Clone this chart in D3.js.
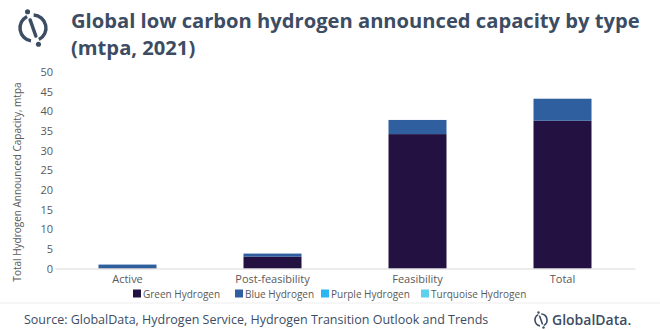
<!DOCTYPE html>
<html>
<head>
<meta charset="utf-8">
<script src="https://cdn.jsdelivr.net/npm/d3@7"></script>
<style>
  html, body { margin: 0; padding: 0; background: #fff; }
  svg { display: block; }
  text { font-family: "Open Sans", "Noto Sans", sans-serif; }
</style>
</head>
<body>
<svg id="chart" width="660" height="330"></svg>
<script>
// Announced capacity by project stage, mtpa
const categories = ["Active", "Post-feasibility", "Feasibility", "Total"];
const seriesNames = ["Green Hydrogen", "Blue Hydrogen", "Purple Hydrogen", "Turquoise Hydrogen"];
const greenValues = [0.1, 3.0, 34.2, 37.6];
const blueValues = [0.9, 0.8, 3.6, 5.6];
const purpleValues = [0, 0, 0, 0];
const turquoiseValues = [0, 0, 0, 0];
const yTicks = [0, 5, 10, 15, 20, 25, 30, 35, 40, 45, 50];

const colors = ["#231241", "#2F5F9F", "#2BB6F2", "#5DD0EE"];
const slate = "#3C4C63";

const svg = d3.select("#chart");

// Brand icon: split ring with a slash and two dots
function drawIcon(g, r, sw) {
  const arc = d3.arc().innerRadius(r - sw / 2).outerRadius(r + sw / 2);
  g.append("path").attr("d", arc({ startAngle: 0.05, endAngle: Math.PI * 0.85 })).attr("fill", slate);
  g.append("path").attr("d", arc({ startAngle: Math.PI * 1.05, endAngle: Math.PI * 1.85 })).attr("fill", slate);
  g.append("line").attr("x1", -r * 0.22).attr("y1", -r * 0.62).attr("x2", r * 0.22).attr("y2", r * 0.62)
    .attr("stroke", slate).attr("stroke-width", sw).attr("stroke-linecap", "round");
  g.append("circle").attr("cx", -r * 0.42).attr("cy", -r * 1.25).attr("r", sw * 0.75).attr("fill", slate);
  g.append("circle").attr("cx", r * 0.42).attr("cy", r * 1.25).attr("r", sw * 0.75).attr("fill", slate);
}
drawIcon(svg.append("g").attr("transform", "translate(33,28)"), 13, 3.4);

// Two-line title; font size chosen so the first line spans the header width
const titleLines = ["Global low carbon hydrogen announced capacity by type", "(mtpa, 2021)"];
const title = svg.append("g").attr("fill", slate).attr("font-weight", 700).attr("font-size", 21);
const t1 = title.append("text").attr("x", 71).attr("y", 28).text(titleLines[0]);
title.append("text").attr("x", 71).attr("y", 55).text(titleLines[1]);
title.attr("font-size", Math.min(22, 21 * 569 / t1.node().getComputedTextLength()));

// Chart area
const margin = { left: 55, right: 25, top: 72, bottom: 61.5 };
const width = 660 - margin.left - margin.right;
const height = 330 - margin.top - margin.bottom;
const g = svg.append("g").attr("transform", `translate(${margin.left},${margin.top})`);

const x = d3.scaleBand().domain(categories).range([0, width]).paddingInner(0.6).paddingOuter(0.3);
const y = d3.scaleLinear().domain([0, 50]).range([height, 0]);

const rows = categories.map((c, i) => ({
  category: c,
  "Green Hydrogen": greenValues[i],
  "Blue Hydrogen": blueValues[i],
  "Purple Hydrogen": purpleValues[i],
  "Turquoise Hydrogen": turquoiseValues[i]
}));
const stacked = d3.stack().keys(seriesNames)(rows);

// Y axis labels only
const yAxis = g.append("g").call(d3.axisLeft(y).tickValues(yTicks).tickSize(0).tickPadding(2));
yAxis.select(".domain").remove();
yAxis.selectAll("text").attr("fill", "#595959").attr("font-size", 11).style("font-family", '"Open Sans", sans-serif');

// Bars
g.selectAll("g.series").data(stacked).join("g").attr("class", "series")
  .attr("fill", (d, i) => colors[i])
  .selectAll("rect").data(d => d).join("rect")
  .attr("x", d => x(d.data.category))
  .attr("width", x.bandwidth())
  .attr("y", d => y(d[1]))
  .attr("height", d => y(d[0]) - y(d[1]));

// Baseline and category labels
const xAxis = g.append("g").attr("transform", `translate(0,${height})`)
  .call(d3.axisBottom(x).tickSize(0).tickPadding(7));
xAxis.select(".domain").attr("stroke", "#D9D9D9").attr("stroke-width", 1);
xAxis.selectAll("text").attr("fill", "#595959").attr("font-size", 11).style("font-family", '"Open Sans", sans-serif');

// Y axis title
svg.append("text")
  .attr("transform", "translate(21,182) rotate(-90)")
  .attr("text-anchor", "middle").attr("fill", "#595959").attr("font-size", 10)
  .text("Total Hydrogen Announced Capacity, mtpa");

// Legend
const legendX = [133, 235, 321, 421];
const legend = svg.append("g").attr("transform", "translate(0,294)");
seriesNames.forEach((name, i) => {
  legend.append("rect").attr("x", legendX[i]).attr("y", -4.5).attr("width", 8).attr("height", 8).attr("fill", colors[i]);
  legend.append("text").attr("x", legendX[i] + 10).attr("y", 0).attr("dy", "0.35em")
    .attr("fill", "#595959").attr("font-size", 10).text(name);
});

// Footer
svg.append("line").attr("x1", 0).attr("x2", 660).attr("y1", 303).attr("y2", 303).attr("stroke", "#EDEDED").attr("stroke-width", 1);
svg.append("text").attr("x", 24).attr("y", 324).attr("fill", slate).attr("font-size", 12.5)
  .text("Source: GlobalData, Hydrogen Service, Hydrogen Transition Outlook and Trends");
drawIcon(svg.append("g").attr("transform", "translate(541,320)"), 6, 1.6);
svg.append("text").attr("x", 552).attr("y", 325).attr("fill", slate).attr("font-size", 14).attr("font-weight", 600)
  .text("GlobalData.");
</script>
</body>
</html>
